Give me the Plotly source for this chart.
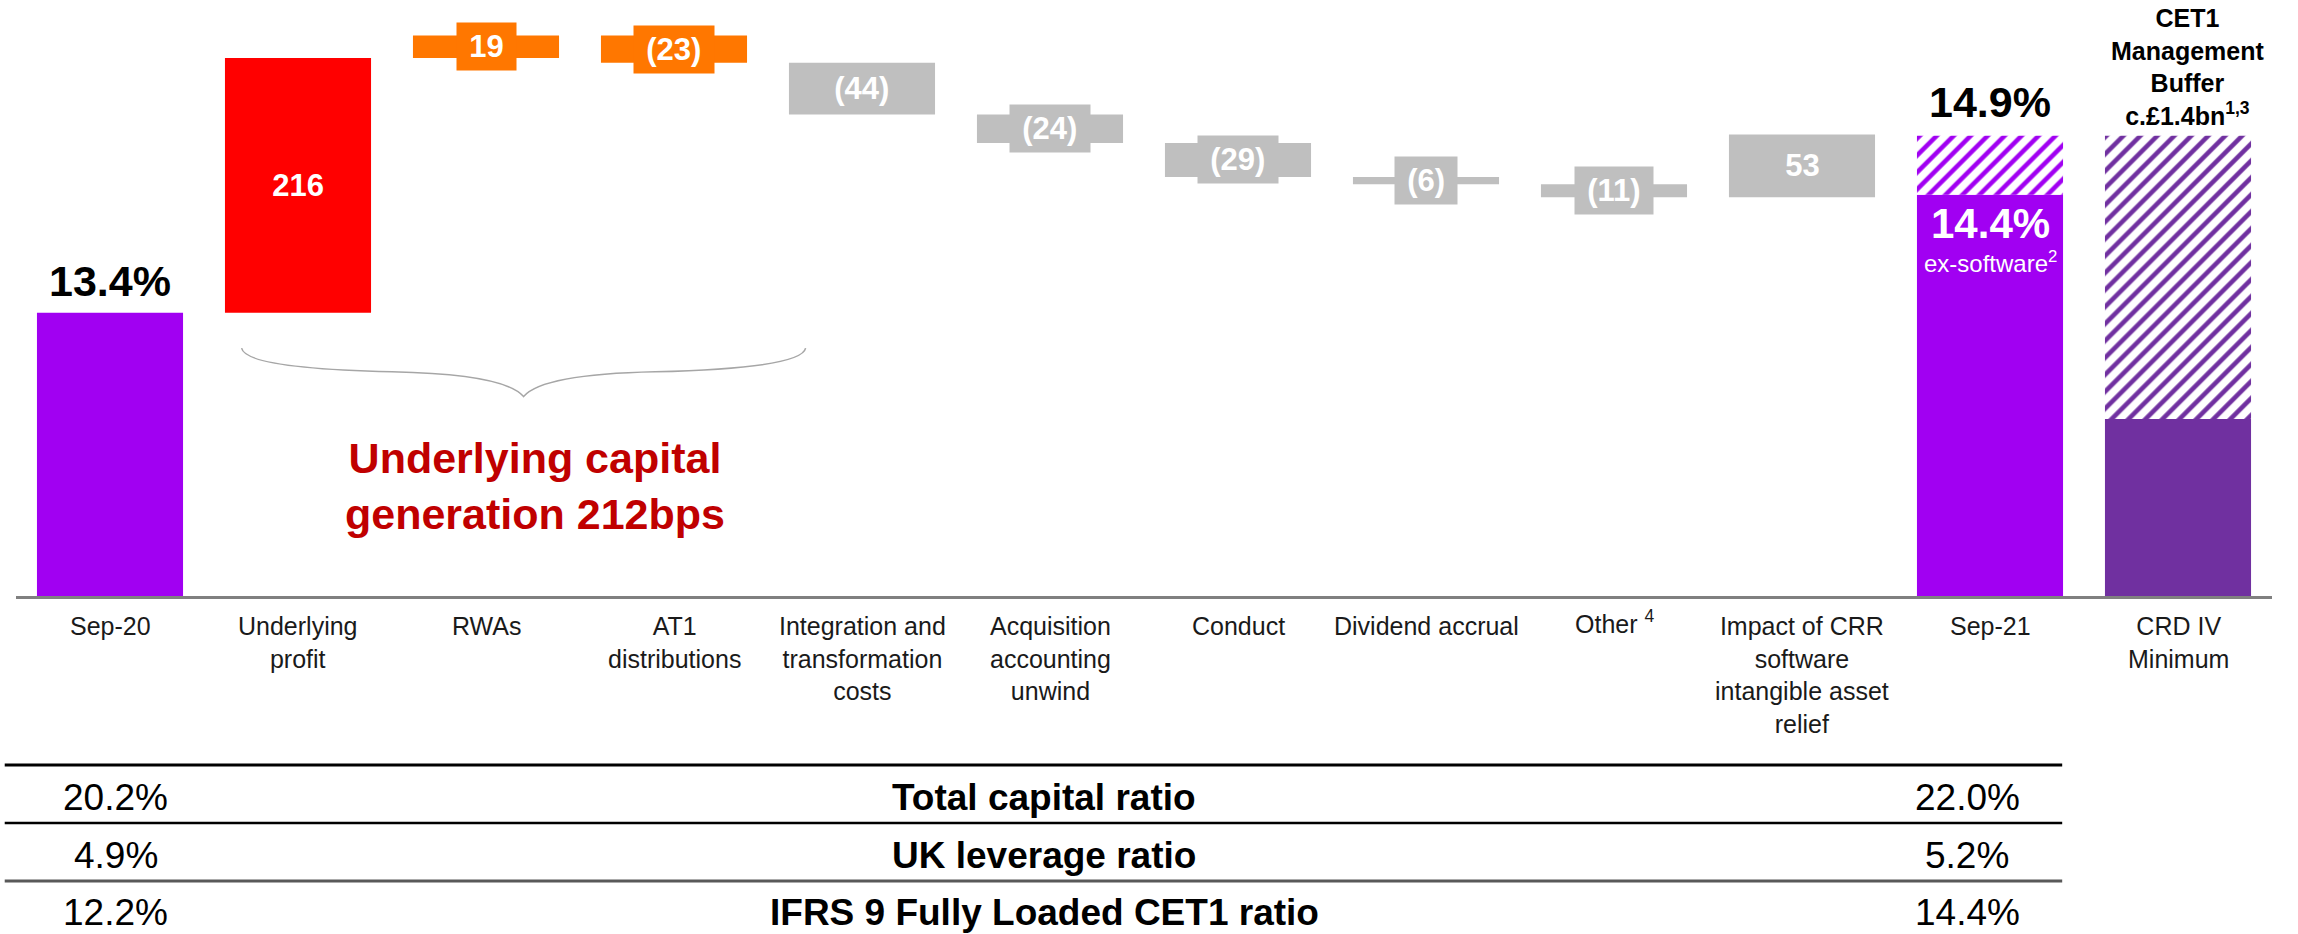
import plotly.graph_objects as go

CATEGORIES = ["Sep-20", "Underlying<br>profit", "RWAs", "AT1<br>distributions",
              "Integration and<br>transformation<br>costs", "Acquisition<br>accounting<br>unwind",
              "Conduct", "Dividend accrual", "Other <sup>4</sup>",
              "Impact of CRR<br>software<br>intangible asset<br>relief", "Sep-21", "CRD IV<br>Minimum"]
START_RATIO = 13.4                                   # % CET1 at Sep-20
MOVES_BPS = [216, 19, -23, -44, -24, -29, -6, -11, 53]
END_RATIO = 14.9                                     # % CET1 at Sep-21
END_EX_SOFTWARE = 14.4
CRD_MINIMUM = 12.5

TABLE_ROWS = ["Total capital ratio", "UK leverage ratio", "IFRS 9 Fully Loaded CET1 ratio"]
TABLE_SEP20 = ["20.2%", "4.9%", "12.2%"]
TABLE_SEP21 = ["22.0%", "5.2%", "14.4%"]

# colours
PURPLE = "#A100F2"
DARK_PURPLE = "#7030A0"
RED = "#FF0000"
ORANGE = "#FF7700"
GREY = "#BFBFBF"
MOVE_COLORS = [RED, ORANGE, ORANGE, GREY, GREY, GREY, GREY, GREY, GREY]
FONT = "Arial, Liberation Sans, sans-serif"

# page geometry (px)
PAGE_W, PAGE_H = 2298, 934
PLOT_TOP, PLOT_BOTTOM = 20, 596          # page rows of the plot area
PLOT_LEFT, PLOT_RIGHT = 16, 2272
Y_MIN = 11.0
PX_PER_PCT = 118
Y_MAX = Y_MIN + (PLOT_BOTTOM - PLOT_TOP) / PX_PER_PCT


def paper_y(pixel):
    """page row -> paper y"""
    return (PLOT_BOTTOM - pixel) / (PLOT_BOTTOM - PLOT_TOP)


def bps_label(v):
    return f"{v}" if v > 0 else f"({-v})"


# waterfall bases / heights
bases, heights = [], []
running = START_RATIO
for m in MOVES_BPS:
    new = round(running + m / 100, 4)
    bases.append(min(running, new))
    heights.append(abs(m) / 100)
    running = new

x_moves = list(range(1, 1 + len(MOVES_BPS)))
BAR_W = 0.777

fig = go.Figure()

# solid totals
fig.add_trace(go.Bar(
    x=[0, 10, 11], y=[START_RATIO, END_EX_SOFTWARE, CRD_MINIMUM], base=[0, 0, 0],
    width=BAR_W, marker=dict(color=[PURPLE, PURPLE, DARK_PURPLE], line_width=0),
    hoverinfo="skip"))

# hatched parts
fig.add_trace(go.Bar(
    x=[10, 11], y=[END_RATIO - END_EX_SOFTWARE, END_RATIO - CRD_MINIMUM],
    base=[END_EX_SOFTWARE, CRD_MINIMUM], width=BAR_W,
    marker=dict(color="white", line_width=0,
                pattern=dict(shape="/", fgcolor=[PURPLE, DARK_PURPLE], bgcolor="white",
                             size=12, solidity=0.38, fillmode="replace")),
    hoverinfo="skip"))

# movements
fig.add_trace(go.Bar(
    x=x_moves, y=heights, base=bases, width=BAR_W,
    marker=dict(color=MOVE_COLORS, line_width=0), hoverinfo="skip"))

ann = []
THIN = "\u2009"
# movement labels
for xi, b, h, m, c in zip(x_moves, bases, heights, MOVES_BPS, MOVE_COLORS):
    ann.append(dict(x=xi, y=b + h / 2, xref="x", yref="y", text=THIN + bps_label(m) + THIN,
                    showarrow=False, bgcolor=c, borderpad=6, xanchor="center", yanchor="middle",
                    font=dict(family=FONT, size=31, color="white", weight="bold")))

# total labels
ann.append(dict(x=0, y=START_RATIO, xref="x", yref="y", text=f"{START_RATIO}%",
                showarrow=False, xanchor="center", yanchor="bottom", yshift=6,
                font=dict(family=FONT, size=43, color="black", weight="bold")))
ann.append(dict(x=10, y=END_RATIO, xref="x", yref="y", text=f"{END_RATIO}%",
                showarrow=False, xanchor="center", yanchor="bottom", yshift=8,
                font=dict(family=FONT, size=43, color="black", weight="bold")))
ann.append(dict(x=10, y=END_EX_SOFTWARE, xref="x", yref="y", text=f"{END_EX_SOFTWARE}%",
                showarrow=False, xanchor="center", yanchor="top", yshift=-3,
                font=dict(family=FONT, size=42, color="white", weight="bold")))
ann.append(dict(x=10, y=END_EX_SOFTWARE, xref="x", yref="y", text="ex-software<sup>2</sup>",
                showarrow=False, xanchor="center", yanchor="top", yshift=-50,
                font=dict(family=FONT, size=24, color="white")))
ann.append(dict(x=11.05, y=END_RATIO, xref="x", yref="y",
                text="CET1<br>Management<br>Buffer<br>c.£1.4bn<sup>1,3</sup>",
                showarrow=False, xanchor="center", yanchor="bottom", yshift=4,
                font=dict(family=FONT, size=25, color="black", weight="bold")))

# underlying capital generation
ann.append(dict(x=2.26, y=paper_y(486), xref="x", yref="paper",
                text="Underlying capital<br>generation 212bps", showarrow=False,
                xanchor="center", yanchor="middle",
                font=dict(family=FONT, size=43, color="#C00000", weight="bold")))

# category labels
for i, cat in enumerate(CATEGORIES):
    ann.append(dict(x=i, y=0, xref="x", yref="paper", text=cat, showarrow=False,
                    xanchor="center", yanchor="top",
                    yshift=-14 + (6 if "<sup>" in cat else 0),
                    font=dict(family=FONT, size=25, color="#1a1a1a")))

# table
row_px = [797, 855, 912]
for name, a, b, rp in zip(TABLE_ROWS, TABLE_SEP20, TABLE_SEP21, row_px):
    for xpos, txt, wt in [(0.03, a, "normal"), (4.97, name, "bold"), (9.88, b, "normal")]:
        ann.append(dict(x=xpos, y=paper_y(rp), xref="x", yref="paper", text=txt,
                        showarrow=False, xanchor="center", yanchor="middle",
                        font=dict(family=FONT, size=37, color="black", weight=wt)))

shapes = []
for rp, col, lw in [(765, "black", 3), (823, "black", 2.5), (881, "#595959", 3)]:
    shapes.append(dict(type="line", xref="paper", yref="paper",
                       x0=-0.005, x1=0.907, y0=paper_y(rp), y1=paper_y(rp),
                       line=dict(color=col, width=lw)))

# brace under underlying profit .. integration costs
shapes.append(dict(type="path", xref="x", yref="y",
                   path="M 0.7,13.1 Q 0.72,12.93 1.5,12.9 Q 2.1,12.88 2.2,12.69 "
                        "Q 2.3,12.88 2.9,12.9 Q 3.68,12.93 3.7,13.1",
                   line=dict(color="#A6A6A6", width=1.5)))

fig.update_layout(
    width=PAGE_W, height=PAGE_H,
    margin=dict(l=PLOT_LEFT, r=PAGE_W - PLOT_RIGHT, t=PLOT_TOP, b=PAGE_H - PLOT_BOTTOM),
    paper_bgcolor="white", plot_bgcolor="white",
    barmode="overlay", showlegend=False,
    xaxis=dict(range=[-0.5, 11.5], showgrid=False, zeroline=False, showticklabels=False,
               showline=True, linecolor="#808080", linewidth=2.5, ticks=""),
    yaxis=dict(range=[Y_MIN, Y_MAX], visible=False),
    annotations=ann, shapes=shapes,
)

# figure is exactly the window size, so drop the browser's default body margin
fig.write_html("out.html", config={"displayModeBar": False},
               post_script="document.body.style.margin = '0px';")
